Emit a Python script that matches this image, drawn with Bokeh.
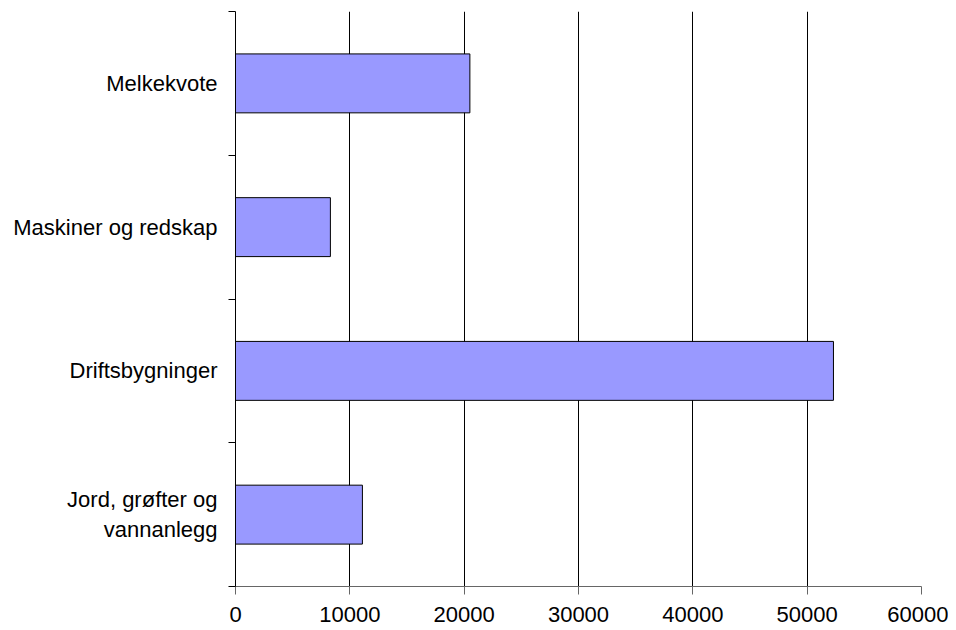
from bokeh.plotting import figure
from bokeh.models import FixedTicker, NumeralTickFormatter
from bokeh.embed import file_html
from bokeh.resources import INLINE

# Data (bottom to top)
categories = ["Jord, grøfter og\nvannanlegg", "Driftsbygninger", "Maskiner og redskap", "Melkekvote"]
values = [11100, 52300, 8300, 20500]
xticks = [0, 10000, 20000, 30000, 40000, 50000, 60000]

ypos = [i + 0.5 for i in range(len(categories))]
bounds = [i for i in range(len(categories) + 1)]

FONT = "Liberation Sans"
FS = "22px"

p = figure(width=948, height=630, x_range=(0, 60000), y_range=(0, len(categories)),
           output_backend="svg", toolbar_location=None,
           min_border_left=235, min_border_right=27, min_border_top=11, min_border_bottom=44)

p.hbar(y=ypos, left=0, right=values, height=0.41,
       fill_color="#9999FF", line_color="black", line_width=1)

p.outline_line_color = None
p.background_fill_color = "white"

# x axis
p.xaxis.ticker = FixedTicker(ticks=xticks)
p.xaxis.formatter = NumeralTickFormatter(format="0")
p.xaxis.axis_line_color = "#666666"
p.xaxis.major_tick_line_color = "#666666"
p.xaxis.major_tick_out = 8
p.xaxis.major_tick_in = 0
p.xaxis.minor_tick_line_color = None
p.xaxis.major_label_standoff = 12
p.xaxis.major_label_text_font = FONT
p.xaxis.major_label_text_font_size = FS
p.xaxis.major_label_text_color = "black"

p.xgrid.ticker = FixedTicker(ticks=xticks)
p.xgrid.grid_line_color = "black"
p.xgrid.grid_line_width = 1
p.ygrid.visible = False

# y axis
p.yaxis.ticker = FixedTicker(ticks=ypos, minor_ticks=bounds)
p.yaxis.major_label_overrides = {y: c for y, c in zip(ypos, categories)}
p.yaxis.axis_line_color = "black"
p.yaxis.major_tick_line_color = None
p.yaxis.major_tick_out = 0
p.yaxis.major_tick_in = 0
p.yaxis.minor_tick_line_color = "black"
p.yaxis.minor_tick_out = 7
p.yaxis.minor_tick_in = 0
p.yaxis.major_label_standoff = 11
p.yaxis.major_label_text_font = FONT
p.yaxis.major_label_text_font_size = FS
p.yaxis.major_label_text_color = "black"

open("out.html", "w").write(file_html(p, INLINE))
